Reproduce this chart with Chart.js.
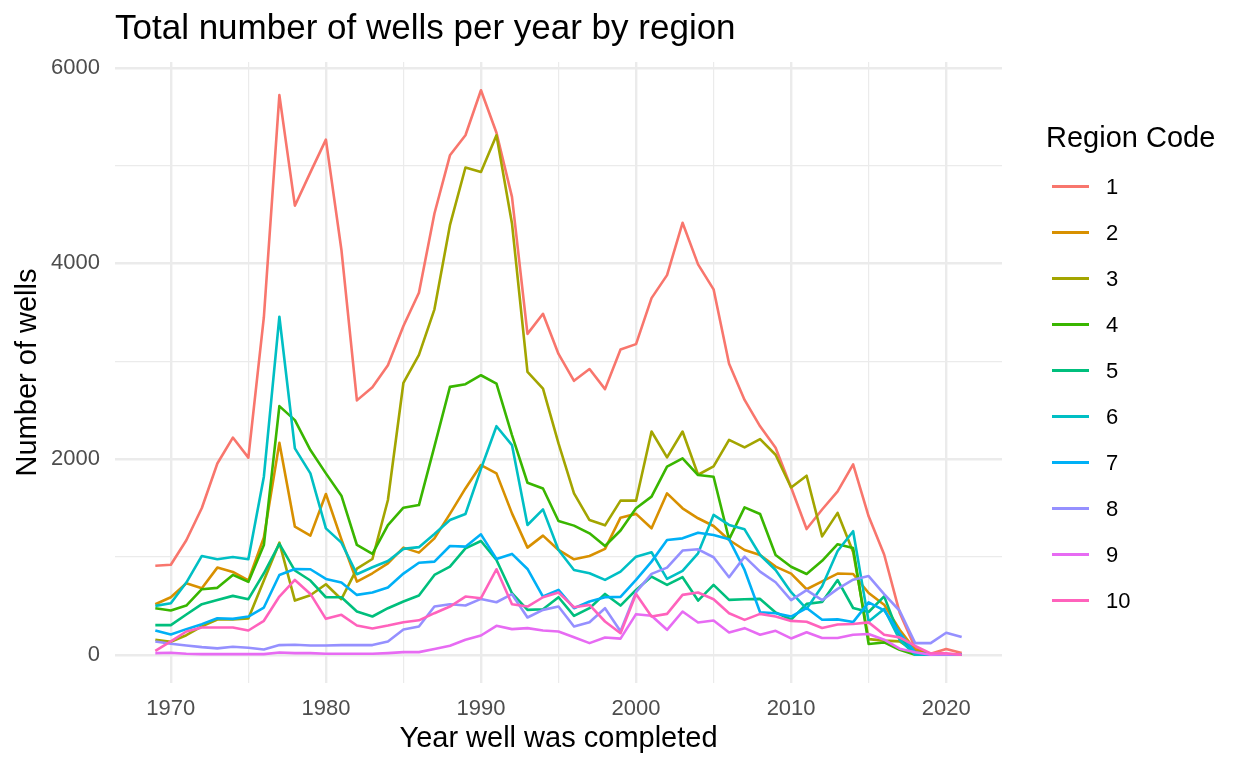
<!DOCTYPE html>
<html><head><meta charset="utf-8">
<script src="https://cdn.jsdelivr.net/npm/chart.js@4.4.1/dist/chart.umd.min.js"></script>
<style>
html,body{margin:0;padding:0;background:#fff;}
#wrap{position:relative;width:1248px;height:768px;overflow:hidden;}
canvas{position:absolute;left:0;top:0;}
.lg{position:absolute;font-family:"Liberation Sans",Arial,Helvetica,sans-serif;color:#000;white-space:nowrap;}
</style></head><body>
<div id="wrap"><canvas id="c" width="1248" height="768" style="width:1248px;height:768px"></canvas><div id="legend"></div></div>
<script>
const chartTitle = 'Total number of wells per year by region';
const xAxisTitle = 'Year well was completed';
const yAxisTitle = 'Number of wells';
const legendTitle = 'Region Code';

const years = [1969,1970,1971,1972,1973,1974,1975,1976,1977,1978,1979,1980,1981,1982,1983,1984,1985,1986,1987,1988,1989,1990,1991,1992,1993,1994,1995,1996,1997,1998,1999,2000,2001,2002,2003,2004,2005,2006,2007,2008,2009,2010,2011,2012,2013,2014,2015,2016,2017,2018,2019,2020,2021];

const regionCodes = ['1','2','3','4','5','6','7','8','9','10'];
const regionColors = ['#F8766D','#D89000','#A3A500','#39B600','#00BF7D','#00BFC4','#00B0F6','#9590FF','#E76BF3','#FF62BC'];

const region1 = [910,920,1170,1500,1955,2220,2015,3450,5720,4590,4930,5265,4140,2600,2735,2960,3360,3700,4510,5105,5310,5770,5335,4680,3280,3485,3075,2800,2920,2715,3120,3175,3645,3880,4415,3990,3735,2975,2605,2335,2115,1710,1285,1485,1670,1945,1415,1025,430,70,10,58,17];
const region2 = [517,588,731,680,891,847,759,1200,2166,1309,1218,1643,1180,748,833,935,1095,1044,1190,1440,1700,1939,1854,1445,1095,1218,1071,976,1010,1082,1401,1440,1293,1650,1497,1395,1316,1173,1071,1020,901,830,670,750,830,826,631,512,256,51,5,5,5];
const region3 = [153,133,200,290,360,360,370,760,1146,554,609,721,568,880,979,1582,2780,3065,3531,4391,4980,4935,5310,4408,2891,2721,2160,1650,1377,1323,1575,1575,2282,2017,2282,1840,1925,2197,2119,2204,2044,1710,1830,1210,1450,1050,160,145,137,34,5,5,5];
const region4 = [476,452,503,670,684,816,745,1122,2541,2398,2092,1854,1626,1122,1031,1326,1503,1530,2130,2738,2765,2857,2772,2245,1758,1700,1367,1320,1241,1112,1270,1497,1616,1922,2007,1837,1820,1180,1507,1439,1020,900,826,960,1130,1092,110,126,50,0,0,0,0];
const region5 = [303,303,412,517,561,602,568,833,1133,861,759,588,588,442,391,476,545,605,816,901,1088,1163,969,629,459,466,588,398,476,622,503,663,799,714,793,554,714,561,568,571,432,360,520,540,763,478,437,597,188,17,0,0,0];
const region6 = [500,527,738,1010,976,1000,976,1820,3455,2109,1854,1292,1146,823,894,959,1082,1100,1235,1377,1439,1900,2336,2143,1326,1486,1071,867,833,765,850,1003,1048,776,857,1037,1429,1327,1282,1020,867,640,470,700,1060,1263,341,468,154,0,0,0,0];
const region7 = [248,207,262,313,374,367,391,483,816,877,874,775,738,612,636,687,830,940,952,1112,1105,1231,980,1031,877,595,663,476,544,588,592,765,952,1173,1190,1248,1224,1180,867,435,425,391,478,358,362,334,536,454,222,24,0,0,0];
const region8 = [136,112,95,78,65,82,71,54,99,102,95,95,99,99,99,136,258,289,493,517,503,571,537,619,381,459,493,289,333,476,240,640,827,891,1065,1078,997,793,1003,850,741,558,661,558,673,767,804,620,450,119,119,225,181];
const region9 = [17,20,10,7,7,7,7,7,24,17,17,10,10,10,10,17,27,27,58,92,153,197,296,262,272,248,238,180,119,177,165,415,398,255,442,330,350,228,272,204,245,167,230,171,171,205,212,154,62,25,0,5,0];
const region10 = [41,136,238,279,279,279,248,347,595,765,622,367,408,299,269,299,333,352,425,493,595,578,874,517,493,588,636,486,510,340,220,622,391,418,612,636,568,425,357,418,391,346,337,273,310,315,331,205,178,90,15,15,0];

const seriesValues = [region1,region2,region3,region4,region5,region6,region7,region8,region9,region10];

const xMajorTicks = [1970,1980,1990,2000,2010,2020];
const xMinorTicks = [1975,1985,1995,2005,2015];
const yMajorTicks = [0,2000,4000,6000];
const yMinorTicks = [1000,3000,5000];

const FONT = '"Liberation Sans", Arial, Helvetica, sans-serif';
Chart.defaults.font.family = FONT;

const xMin = years[0] - 0.05 * (years[years.length - 1] - years[0]);
const xMax = years[years.length - 1] + 0.05 * (years[years.length - 1] - years[0]);
const allVals = seriesValues.flat();
const vMax = Math.max(...allVals), vMin = Math.min(...allVals);
const yMin = vMin - 0.05 * (vMax - vMin);
const yMax = vMax + 0.05 * (vMax - vMin);

const datasets = regionCodes.map((code, i) => ({
  label: code,
  data: years.map((yr, j) => ({x: yr, y: seriesValues[i][j]})),
  borderColor: regionColors[i],
  backgroundColor: regionColors[i],
  borderWidth: 2.6,
  pointRadius: 0,
  pointHoverRadius: 0,
  tension: 0,
  fill: false,
  borderJoinStyle: 'round',
  order: regionCodes.length - 1 - i
}));

const gridColor = '#EBEBEB';

new Chart(document.getElementById('c'), {
  type: 'line',
  data: {datasets},
  options: {
    responsive: false,
    animation: false,
    devicePixelRatio: 1,
    layout: {padding: {left: 0, right: 246, top: 0, bottom: 0}},
    plugins: {
      legend: {display: false},
      tooltip: {enabled: false},
      title: {
        display: true,
        text: chartTitle,
        align: 'start',
        fullSize: false,
        color: '#000000',
        font: {size: 35, weight: 'normal', lineHeight: 1.2},
        padding: {top: 8.6, bottom: 11.4}
      }
    },
    scales: {
      x: {
        type: 'linear',
        min: xMin,
        max: xMax,
        afterBuildTicks: (s) => { s.ticks = xMajorTicks.concat(xMinorTicks).sort((a, b) => a - b).map(v => ({value: v})); },
        afterFit: (s) => { s.height = 85; },
        ticks: {
          autoSkip: false, maxRotation: 0, minRotation: 0, padding: 13,
          color: '#4D4D4D', font: {size: 22},
          callback: (v) => xMajorTicks.includes(v) ? String(v) : ''
        },
        grid: {
          color: gridColor, drawTicks: false,
          lineWidth: (ctx) => (ctx.tick && xMajorTicks.includes(ctx.tick.value)) ? 2.4 : 1.2
        },
        border: {display: false},
        title: {display: true, text: xAxisTitle, color: '#000000', font: {size: 29, lineHeight: 1.2}, padding: {top: 0, bottom: 12}}
      },
      y: {
        type: 'linear',
        min: yMin,
        max: yMax,
        afterBuildTicks: (s) => { s.ticks = yMajorTicks.concat(yMinorTicks).sort((a, b) => a - b).map(v => ({value: v})); },
        afterFit: (s) => { s.width = 115; },
        ticks: {
          padding: 15, color: '#4D4D4D', font: {size: 22},
          callback: (v) => yMajorTicks.includes(v) ? String(v) : ''
        },
        grid: {
          color: gridColor, drawTicks: false,
          lineWidth: (ctx) => (ctx.tick && yMajorTicks.includes(ctx.tick.value)) ? 2.4 : 1.2
        },
        border: {display: false},
        title: {display: true, text: yAxisTitle, color: '#000000', font: {size: 29, lineHeight: 1.2}, padding: {top: 11, bottom: 0}}
      }
    }
  }
});

// Legend (HTML, generated from the region arrays)
const lg = document.getElementById('legend');
const t = document.createElement('div');
t.className = 'lg';
t.textContent = legendTitle;
t.style.cssText = 'left:1046px;top:117px;height:40px;line-height:40px;font-size:29px;';
lg.appendChild(t);
regionCodes.forEach((code, i) => {
  const cy = 186.5 + 46 * i;
  const ln = document.createElement('div');
  ln.style.cssText = `position:absolute;left:1052px;top:${cy - 1.3}px;width:37px;height:2.6px;background:${regionColors[i]};`;
  lg.appendChild(ln);
  const tx = document.createElement('div');
  tx.className = 'lg';
  tx.textContent = code;
  tx.style.cssText = `left:1106px;top:${cy - 20}px;height:40px;line-height:40px;font-size:22px;`;
  lg.appendChild(tx);
});
</script>
</body></html>
